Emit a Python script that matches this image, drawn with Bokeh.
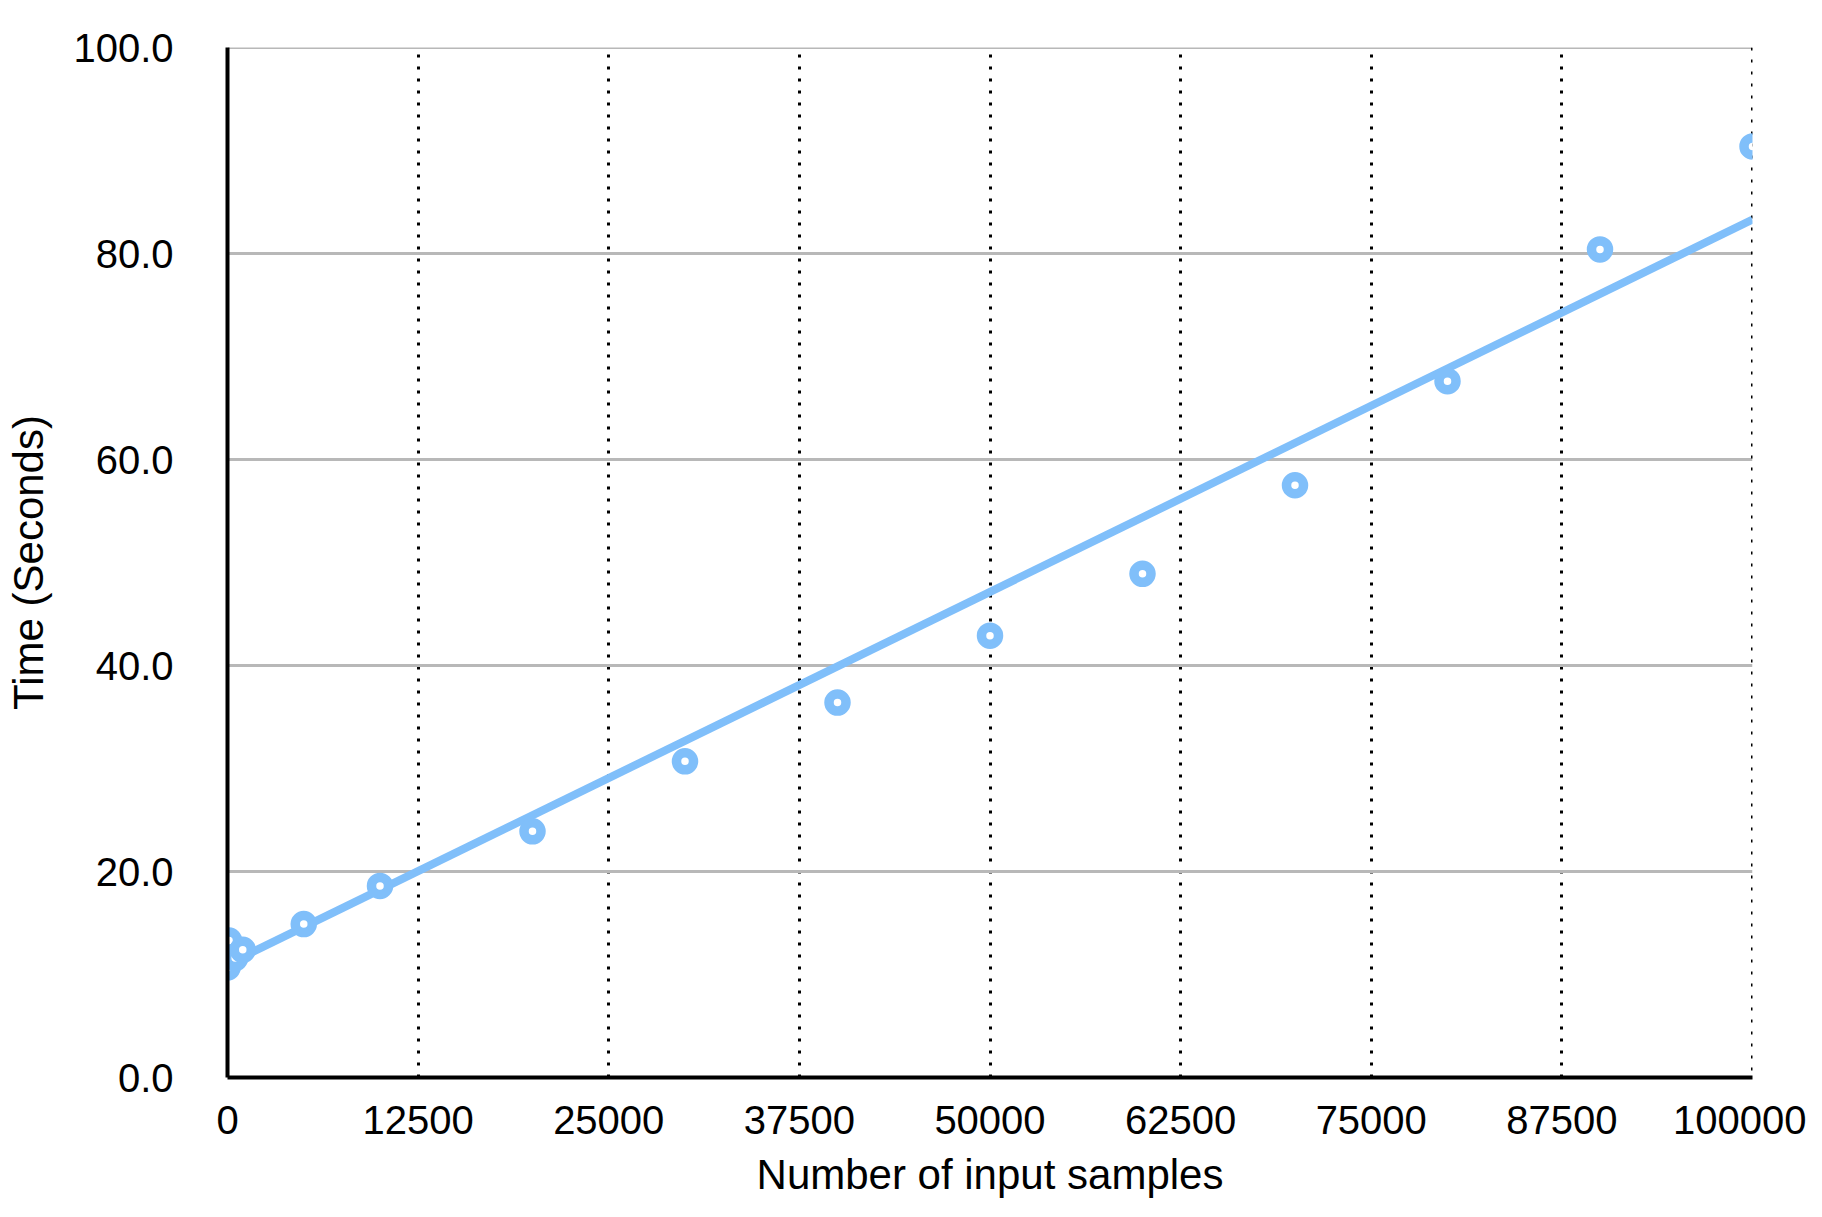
import numpy as np
from bokeh.plotting import figure
from bokeh.models import Range1d, FixedTicker, NumeralTickFormatter, ColumnDataSource, Span
from bokeh.embed import file_html
from bokeh.resources import INLINE

# data
samples = [10, 100, 500, 1000, 5000, 10000, 20000, 30000, 40000, 50000,
           60000, 70000, 80000, 90000, 100000]
seconds = [10.7, 13.3, 11.6, 12.4, 14.9, 18.6, 23.9, 30.7, 36.4, 42.9,
           48.9, 57.5, 67.6, 80.4, 90.4]
x_ticks = [0, 12500, 25000, 37500, 50000, 62500, 75000, 87500, 100000]
y_ticks = [0, 20, 40, 60, 80, 100]
trend_x = [0, 100000]
trend_intercept = 11.0
trend_slope = 0.000723

BLUE = "#80bffa"
FONT = "Liberation Sans"

p = figure(width=1806, height=1200, output_backend="svg", toolbar_location=None,
           x_range=Range1d(x_ticks[0], x_ticks[-1]), y_range=Range1d(y_ticks[0], y_ticks[-1]),
           min_border_left=227, min_border_right=54, min_border_top=47,
           min_border_bottom=123)
p.outline_line_color = None
p.background_fill_color = "white"
p.border_fill_color = "white"

# grids
p.xgrid.ticker = FixedTicker(ticks=x_ticks)
p.xgrid.grid_line_color = "black"
p.xgrid.grid_line_width = 3
p.xgrid.grid_line_dash = "3 9"
p.ygrid.ticker = FixedTicker(ticks=y_ticks)
p.ygrid.grid_line_color = "#b8b8b8"
p.ygrid.grid_line_width = 3
# boundary grid lines (Bokeh omits grid lines at range ends)
p.add_layout(Span(location=y_ticks[-1], dimension="width", line_color="#b8b8b8",
                  line_width=3, level="underlay"))
p.add_layout(Span(location=x_ticks[-1], dimension="height", line_color="black",
                  line_width=3, line_dash="3 9", level="underlay"))

trend_y = [trend_intercept + trend_slope * v for v in trend_x]
p.line(trend_x, trend_y, line_color=BLUE, line_width=8)

src = ColumnDataSource(dict(x=samples, y=seconds))
p.scatter("x", "y", source=src, size=17, fill_color="white",
          line_color=BLUE, line_width=9.5)

# axes
for ax in (p.xaxis, p.yaxis):
    ax.axis_line_color = "black"
    ax.axis_line_width = 4
    ax.major_tick_line_color = None
    ax.minor_tick_line_color = None
    ax.major_label_text_font = FONT
    ax.major_label_text_font_size = "40px"
    ax.major_label_text_color = "black"
    ax.axis_label_text_font = FONT
    ax.axis_label_text_font_size = "42px"
    ax.axis_label_text_font_style = "normal"
    ax.axis_label_text_color = "black"

p.xaxis.ticker = FixedTicker(ticks=x_ticks)
p.xaxis.formatter = NumeralTickFormatter(format="0")
p.xaxis.axis_label = "Number of input samples"
p.xaxis.major_label_standoff = 22
p.xaxis.axis_label_standoff = 14

p.yaxis.ticker = FixedTicker(ticks=y_ticks)
p.yaxis.formatter = NumeralTickFormatter(format="0.0")
p.yaxis.axis_label = "Time (Seconds)"
p.yaxis.major_label_standoff = 48
p.yaxis.axis_label_standoff = 18

open("out.html", "w").write(file_html(p, INLINE))
